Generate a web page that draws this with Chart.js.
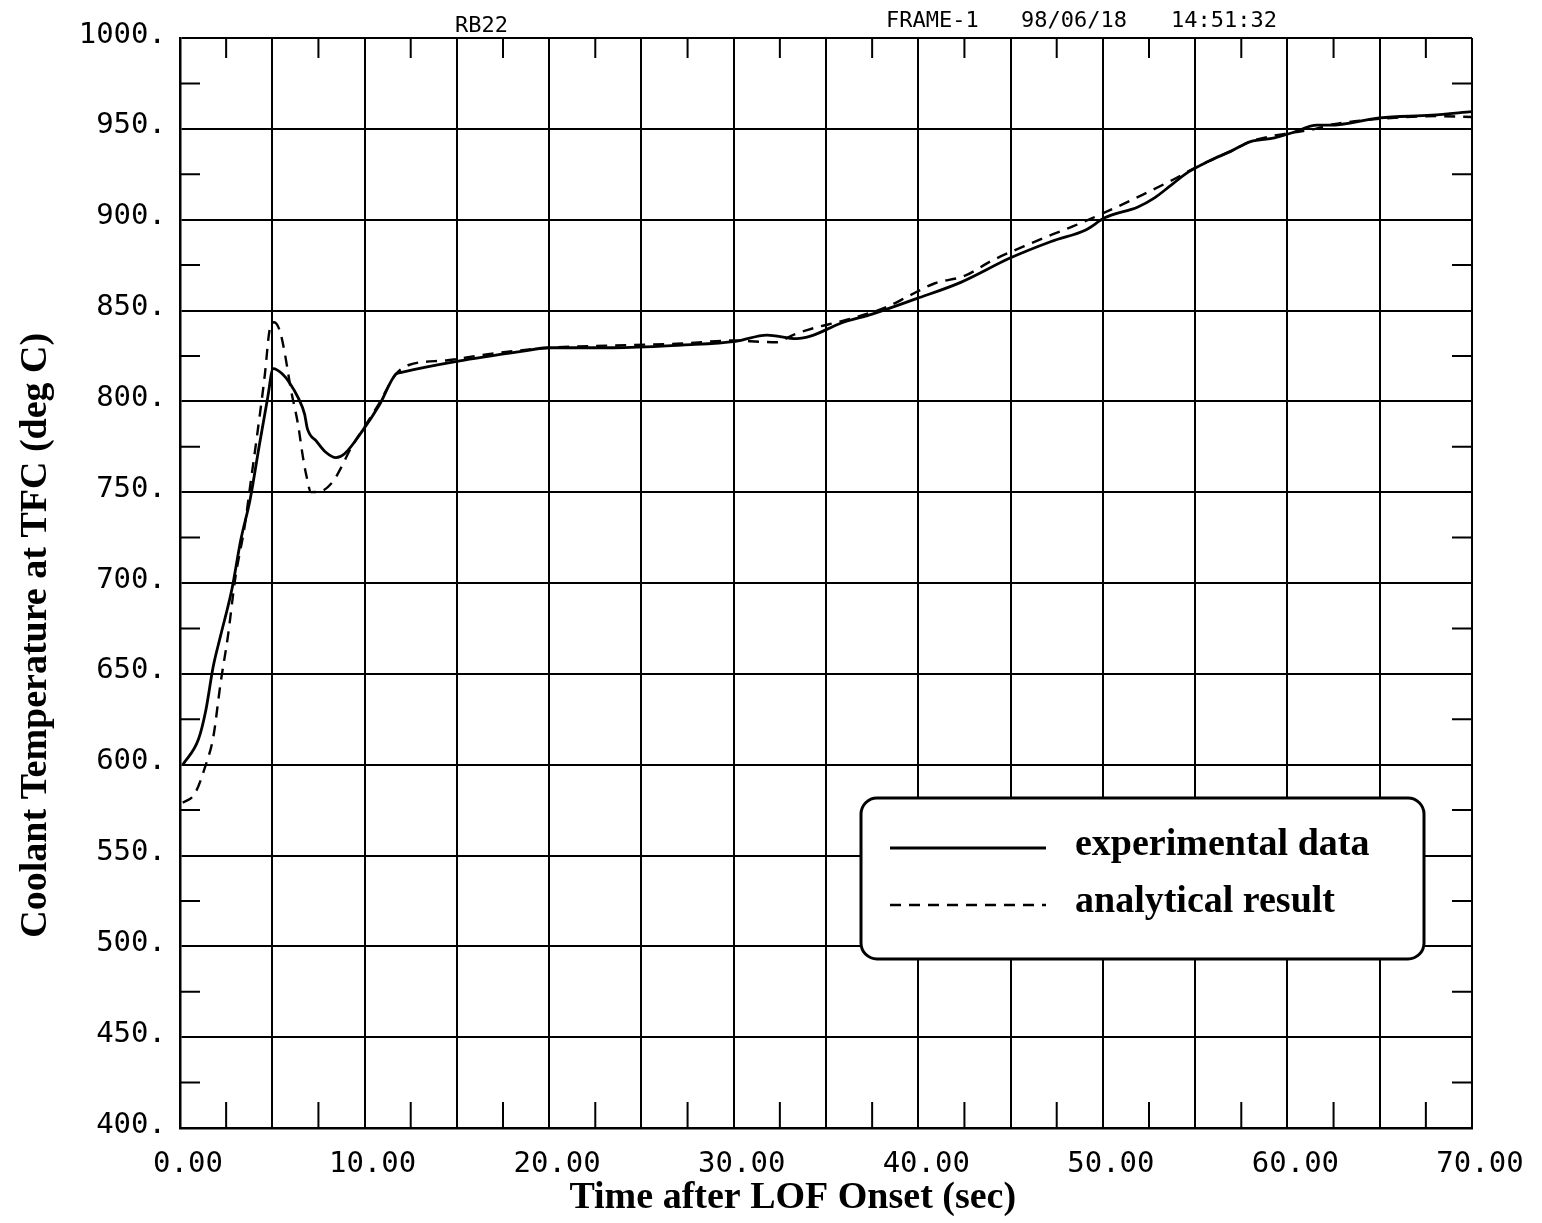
<!DOCTYPE html>
<html>
<head>
<meta charset="utf-8">
<script src="https://cdn.jsdelivr.net/npm/chart.js@4/dist/chart.umd.min.js"></script>
<style>
  body { margin: 0; background: #fff; }
</style>
</head>
<body>
<canvas id="myChart" width="1542" height="1223"></canvas>
<script>
// experimental data (solid line)
const expTime = [0.15, 1.0, 1.4, 1.8, 2.2, 2.8, 3.3, 3.8, 4.3, 4.75, 5.05, 5.55, 5.95, 6.4, 6.75, 6.9,
  7.4, 7.9, 8.45, 8.9, 9.9, 10.8, 11.7, 12.0, 15.0, 18.5, 20.0, 23.5, 27.2, 30.1, 31.8, 33.4,
  34.2, 35.8, 37.5, 39.9, 42.3, 45.0, 47.2, 49.1, 50.1, 51.9, 52.8, 53.7, 54.6, 55.7, 57.0,
  58.0, 59.3, 60.3, 61.6, 62.3, 65.0, 67.8, 70.0];
const expTemp = [600, 614, 630, 654, 671, 696, 724, 746, 776, 802, 818, 815, 810, 802, 793, 785,
  778, 772, 769, 771, 784, 798, 815, 816, 822, 827.5, 829.5, 829.5, 831, 833, 836.5, 834.5,
  836, 843, 848, 856.5, 865.5, 879, 888, 894.5, 901, 907, 912, 919, 926, 932, 938,
  943, 945, 948, 952, 952, 956, 957.5, 959.5];

// analytical result (dashed line)
const anaTime = [0.15, 0.8, 1.4, 1.8, 2.2, 2.6, 3.0, 3.5, 3.85, 4.2, 4.6, 4.85, 5.1, 5.4, 5.65, 6.0,
  6.4, 6.65, 6.85, 7.1, 7.65, 8.3, 8.65, 9.3, 10.0, 10.8, 11.7, 12.4, 14.5, 16.3, 18.4, 20.0,
  24.5, 27.2, 30.0, 31.4, 32.3, 33.2, 34.4, 35.8, 38.3, 39.6, 40.9, 42.5, 44.0, 46.2, 47.3,
  48.4, 50.7, 51.8, 53.8, 54.7, 55.9, 57.0, 58.0, 60.3, 61.3, 62.5, 65.0, 68.1, 70.0];
const anaTemp = [579, 584, 600, 615, 645, 671, 703, 731, 757, 783, 815, 839, 843.5, 839, 828, 807,
  787, 770, 759, 750, 750.5, 756, 762, 775, 786, 799, 815, 820, 822.6, 825.4, 828, 829.5,
  831, 831.8, 833.5, 832.8, 832.5, 836.5, 840.5, 844, 852, 858.6, 865, 869, 877.5, 887.4, 892,
  896.4, 906.7, 912, 922, 927, 933, 938, 943, 948, 949.5, 952.5, 955.5, 957, 956.5];

const xTickValues = [0, 10, 20, 30, 40, 50, 60, 70];
const xTickLabels = ["0.00", "10.00", "20.00", "30.00", "40.00", "50.00", "60.00", "70.00"];
const yTickValues = [400, 450, 500, 550, 600, 650, 700, 750, 800, 850, 900, 950, 1000];
const yTickLabels = ["400.", "450.", "500.", "550.", "600.", "650.", "700.", "750.", "800.", "850.", "900.", "950.", "1000."];
const headerTexts = ["RB22", "FRAME-1", "98/06/18", "14:51:32"];

const toPoints = (xs, ys) => xs.map((x, i) => ({ x: x, y: ys[i] }));

// short inward ticks halfway between gridlines, on all four edges
const minorTicks = {
  id: "minorTicks",
  beforeDatasetsDraw(chart) {
    const { ctx, chartArea, scales } = chart;
    ctx.save();
    ctx.strokeStyle = "#000";
    ctx.lineWidth = 2;
    ctx.beginPath();
    for (let v = 2.5; v < 70; v += 5) {
      const px = scales.x.getPixelForValue(v);
      ctx.moveTo(px, chartArea.top);
      ctx.lineTo(px, chartArea.top + 20);
      ctx.moveTo(px, chartArea.bottom);
      ctx.lineTo(px, chartArea.bottom - 26);
    }
    for (let v = 425; v < 1000; v += 50) {
      const py = scales.y.getPixelForValue(v);
      ctx.moveTo(chartArea.left, py);
      ctx.lineTo(chartArea.left + 20, py);
      ctx.moveTo(chartArea.right, py);
      ctx.lineTo(chartArea.right - 20, py);
    }
    ctx.stroke();
    ctx.restore();
  },
  afterDraw(chart) {
    const ctx = chart.ctx;
    ctx.save();
    ctx.fillStyle = "#000";
    ctx.font = "22px 'DejaVu Sans Mono'";
    ctx.textBaseline = "alphabetic";
    ctx.fillText(headerTexts[0], 455, 32);
    ctx.fillText(headerTexts[1], 886, 27);
    ctx.fillText(headerTexts[2], 1021, 27);
    ctx.fillText(headerTexts[3], 1171, 27);
    ctx.restore();
  },
};

// legend in a rounded box inside the plot
const legendBox = {
  id: "legendBox",
  afterDatasetsDraw(chart) {
    const ctx = chart.ctx;
    ctx.save();
    ctx.beginPath();
    ctx.roundRect(861, 798, 563, 161, 16);
    ctx.fillStyle = "#fff";
    ctx.fill();
    ctx.lineWidth = 3;
    ctx.strokeStyle = "#000";
    ctx.stroke();
    chart.data.datasets.forEach((ds, i) => {
      const y = 848 + i * 57;
      ctx.beginPath();
      ctx.setLineDash(ds.borderDash || []);
      ctx.lineWidth = ds.borderWidth;
      ctx.moveTo(890, y);
      ctx.lineTo(1046, y);
      ctx.stroke();
      ctx.setLineDash([]);
      ctx.font = "bold 38px 'Liberation Serif'";
      ctx.fillStyle = "#000";
      ctx.textBaseline = "alphabetic";
      ctx.fillText(ds.label, 1075, y + 7);
    });
    ctx.restore();
  },
};

const ctx = document.getElementById("myChart");

new Chart(ctx, {
  type: "line",
  data: {
    datasets: [
      {
        label: "experimental data",
        data: toPoints(expTime, expTemp),
        borderColor: "#000",
        borderWidth: 2.8,
        pointRadius: 0,
        cubicInterpolationMode: "monotone",
      },
      {
        label: "analytical result",
        data: toPoints(anaTime, anaTemp),
        borderColor: "#000",
        borderWidth: 2.4,
        borderDash: [11, 8],
        pointRadius: 0,
        cubicInterpolationMode: "monotone",
      },
    ],
  },
  options: {
    responsive: false,
    animation: false,
    layout: { padding: { top: 38, right: 70, left: 0, bottom: 0 } },
    plugins: {
      legend: { display: false },
      tooltip: { enabled: false },
    },
    scales: {
      x: {
        type: "linear",
        min: 0,
        max: 70,
        afterFit: (scale) => { scale.height = 95; },
        grid: { color: "#000", lineWidth: 2, drawTicks: false },
        border: { color: "#000", width: 2.5 },
        ticks: {
          stepSize: 5,
          autoSkip: false,
          maxRotation: 0,
          padding: 19,
          labelOffset: 8,
          color: "#000",
          font: { family: "'DejaVu Sans Mono'", size: 29 },
          callback: (v) => {
            const i = xTickValues.indexOf(v);
            return i >= 0 ? xTickLabels[i] : "";
          },
        },
        title: {
          display: true,
          // trailing spaces move the centred title left, as in the original plot
          text: "Time after LOF Onset (sec)       ",
          color: "#000",
          font: { family: "'Liberation Serif'", size: 38, weight: "bold" },
          padding: { top: 0, bottom: 2 },
        },
      },
      y: {
        min: 400,
        max: 1000,
        afterFit: (scale) => { scale.width = 180; },
        grid: { color: "#000", lineWidth: 2, drawTicks: false },
        border: { color: "#000", width: 2.5 },
        ticks: {
          stepSize: 50,
          padding: 14,
          labelOffset: -3,
          color: "#000",
          font: { family: "'DejaVu Sans Mono'", size: 29 },
          callback: (v) => {
            const i = yTickValues.indexOf(v);
            return i >= 0 ? yTickLabels[i] : "";
          },
        },
        title: {
          display: true,
          // trailing spaces move the centred title down, as in the original plot
          text: "Coolant Temperature at TFC (deg C)           ",
          color: "#000",
          font: { family: "'Liberation Serif'", size: 38, weight: "bold" },
          padding: { top: 13, bottom: 0 },
        },
      },
    },
  },
  plugins: [minorTicks, legendBox],
});
</script>
</body>
</html>
